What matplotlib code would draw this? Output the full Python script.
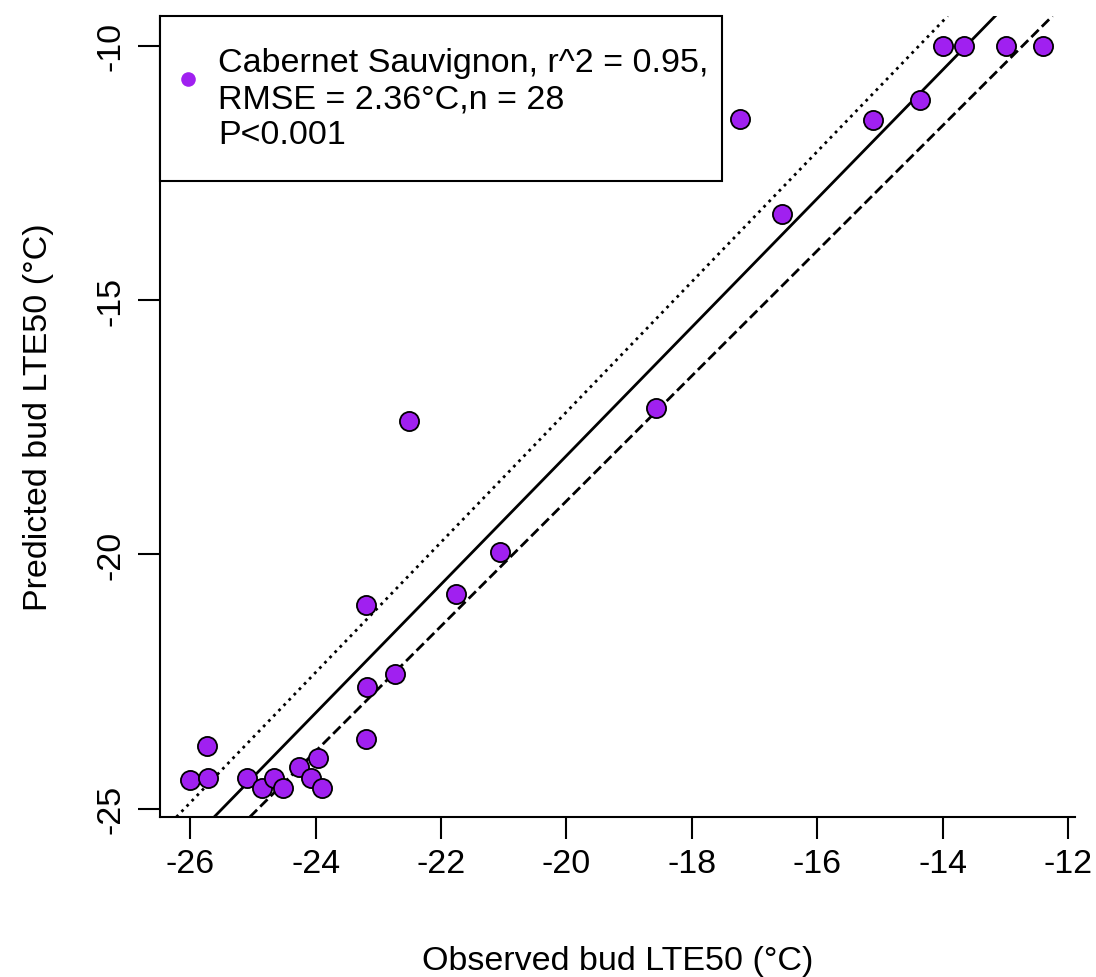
import matplotlib.pyplot as plt
from matplotlib.patches import Rectangle
import numpy as np

plt.rcParams['font.family'] = ['Liberation Sans', 'DejaVu Sans']
plt.rcParams['axes.unicode_minus'] = False

# observed vs predicted bud LTE50 (deg C)
observed = [-26.0, -25.73, -25.71, -25.1, -24.85, -24.66, -24.52, -24.26,
            -24.07, -23.96, -23.89, -23.19, -23.18, -23.19, -22.73, -22.51,
            -21.76, -21.06, -18.57, -17.23, -16.56, -15.12, -14.36, -14.0,
            -13.67, -12.99, -12.40]
predicted = [-24.43, -23.76, -24.39, -24.39, -24.59, -24.39, -24.59, -24.17,
             -24.39, -24.0, -24.59, -23.62, -22.6, -21.0, -22.35, -17.37,
             -20.77, -19.95, -17.12, -11.45, -13.32, -11.47, -11.08, -10.0,
             -10.0, -10.0, -10.0]

# fitted line and the two bounds: (intercept, slope)
fit_line = (7.22, 1.264)
upper_line = (8.4, 1.28)
lower_line = (5.65, 1.23)

legend_label = "Cabernet Sauvignon, r^2 = 0.95,\nRMSE = 2.36°C,n = 28\nP<0.001"

x_ticks = [-26, -24, -22, -20, -18, -16, -14, -12]
y_ticks = [-25, -20, -15, -10]

fs = 24.5
purple = '#A020F0'

fig = plt.figure(figsize=(10.96, 9.78), dpi=100)
ax = fig.add_axes([0.146, 0.1636, 0.835, 0.819])

ax.scatter(observed, predicted, s=190, c=purple, edgecolors='black',
           linewidths=1.3, zorder=3)

for (b, m), ls in [(fit_line, '-'), (upper_line, ':'), (lower_line, '--')]:
    ax.axline((0, b), slope=m, color='black', lw=2.0, ls=ls, zorder=2)

ax.set_xlim(-26.48, -11.89)
ax.set_ylim(-25.16, -9.42)
ax.set_xticks(x_ticks)
ax.set_yticks(y_ticks)
ax.spines['top'].set_visible(False)
ax.spines['right'].set_visible(False)
for s in ['left', 'bottom']:
    ax.spines[s].set_linewidth(1.5)
ax.tick_params(axis='both', length=16, width=1.5, labelsize=fs)
ax.tick_params(axis='x', pad=6)
ax.tick_params(axis='y', pad=8, labelrotation=90)
for lab in ax.get_yticklabels():
    lab.set_va('center')

ax.set_xlabel('Observed bud LTE50 (°C)', fontsize=fs, labelpad=48)
ax.set_ylabel('Predicted bud LTE50 (°C)', fontsize=fs, labelpad=30)

# legend box drawn by hand, R style (top-left)
ax.add_patch(Rectangle((0, 0.794), 0.614, 0.206, transform=ax.transAxes,
                       facecolor='white', edgecolor='black', lw=1.5,
                       zorder=4, clip_on=False))
ax.plot([0.0306], [0.921], 'o', ms=10.5, color=purple, mec='none',
        transform=ax.transAxes, zorder=5, clip_on=False)
ax.text(0.0634, 0.897, legend_label, transform=ax.transAxes, fontsize=fs,
        ha='left', va='center', linespacing=1.22, zorder=5)

fig.savefig('out.png', dpi=100)
